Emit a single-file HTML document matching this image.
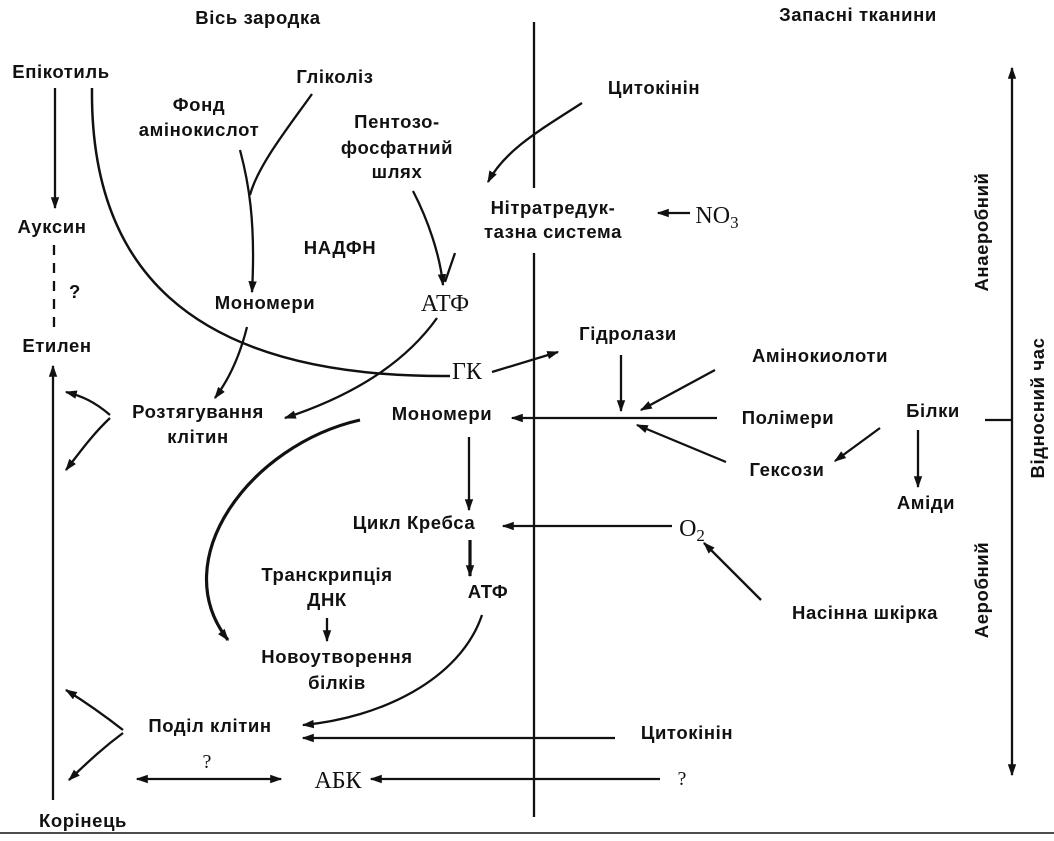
<!DOCTYPE html>
<html><head><meta charset="utf-8"><style>
html,body{margin:0;padding:0;background:#fff}
svg{display:block}
.t{font-family:"Liberation Sans",sans-serif;font-weight:bold;font-size:18.5px;letter-spacing:0.6px;fill:#111;text-anchor:middle}
.s{font-family:"Liberation Serif",serif;font-size:24px;fill:#111;text-anchor:middle}
</style></head><body>
<svg width="1054" height="841" viewBox="0 0 1054 841" xmlns="http://www.w3.org/2000/svg">
<defs>
<marker id="a" viewBox="0 0 10 10" refX="9" refY="5" markerWidth="12" markerHeight="12" markerUnits="userSpaceOnUse" orient="auto-start-reverse"><path d="M0,1.5 L10,5 L0,8.5 Z" fill="#111"/></marker>
</defs>
<g stroke="#111" stroke-width="2.3" fill="none">
<line x1="534" y1="22" x2="534" y2="188"/>
<line x1="534" y1="253" x2="534" y2="817"/>
<line x1="0" y1="833" x2="1054" y2="833" stroke-width="1.5"/>
<line x1="1012" y1="68" x2="1012" y2="775" marker-start="url(#a)" marker-end="url(#a)"/>
<line x1="985" y1="420" x2="1012" y2="420"/>
<line x1="55" y1="88" x2="55" y2="208" marker-end="url(#a)"/>
<line x1="54" y1="245" x2="54" y2="332" stroke-dasharray="10,8"/>
<line x1="53" y1="800" x2="53" y2="366" marker-end="url(#a)"/>
<path d="M92,88 C90,260 180,378 450,376" stroke-width="2.5"/>
<line x1="492" y1="372" x2="558" y2="352" marker-end="url(#a)"/>
<path d="M312,94 C290,125 258,165 250,195"/>
<path d="M240,150 C248,180 256,220 252,292" marker-end="url(#a)"/>
<path d="M413,191 C428,220 440,255 443,285" marker-end="url(#a)"/>
<line x1="455" y1="253" x2="445" y2="282"/>
<path d="M247,327 C240,355 230,378 215,398" marker-end="url(#a)"/>
<path d="M437,318 C400,370 340,400 285,418" marker-end="url(#a)"/>
<path d="M110,415 C95,402 82,396 66,392" marker-end="url(#a)"/>
<path d="M110,418 C92,435 80,452 66,470" marker-end="url(#a)"/>
<path d="M123,730 C100,712 82,700 66,690" marker-end="url(#a)"/>
<path d="M123,733 C100,750 85,765 69,780" marker-end="url(#a)"/>
<path d="M360,420 C250,445 165,560 228,640" stroke-width="3.2" marker-end="url(#a)"/>
<line x1="469" y1="437" x2="469" y2="510" marker-end="url(#a)"/>
<line x1="470" y1="540" x2="470" y2="576" stroke-width="3.2" marker-end="url(#a)"/>
<line x1="327" y1="618" x2="327" y2="641" marker-end="url(#a)"/>
<path d="M482,615 C460,680 380,718 303,725" marker-end="url(#a)"/>
<line x1="615" y1="738" x2="303" y2="738" marker-end="url(#a)"/>
<line x1="660" y1="779" x2="371" y2="779" marker-end="url(#a)"/>
<line x1="137" y1="779" x2="281" y2="779" marker-start="url(#a)" marker-end="url(#a)"/>
<path d="M582,103 C540,130 505,150 488,182" marker-end="url(#a)"/>
<line x1="690" y1="213" x2="658" y2="213" marker-end="url(#a)"/>
<line x1="672" y1="526" x2="503" y2="526" marker-end="url(#a)"/>
<line x1="761" y1="600" x2="704" y2="543" marker-end="url(#a)"/>
<line x1="717" y1="418" x2="512" y2="418" marker-end="url(#a)"/>
<line x1="621" y1="355" x2="621" y2="411" marker-end="url(#a)"/>
<line x1="715" y1="370" x2="641" y2="410" marker-end="url(#a)"/>
<line x1="726" y1="462" x2="637" y2="425" marker-end="url(#a)"/>
<line x1="880" y1="428" x2="835" y2="461" marker-end="url(#a)"/>
<line x1="918" y1="430" x2="918" y2="487" marker-end="url(#a)"/>
</g>
<g class="t">
<text x="258" y="24">Вісь зародка</text>
<text x="858" y="21">Запасні тканини</text>
<text x="61" y="78">Епікотиль</text>
<text x="335" y="83">Гліколіз</text>
<text x="199" y="111">Фонд</text>
<text x="199" y="136">амінокислот</text>
<text x="397" y="128">Пентозо-</text>
<text x="397" y="154">фосфатний</text>
<text x="397" y="178">шлях</text>
<text x="654" y="94">Цитокінін</text>
<text x="553" y="214">Нітратредук-</text>
<text x="553" y="238">тазна система</text>
<text x="52" y="233">Ауксин</text>
<text x="75" y="298">?</text>
<text x="340" y="254">НАДФН</text>
<text x="265" y="309">Мономери</text>
<text x="57" y="352">Етилен</text>
<text x="628" y="340">Гідролази</text>
<text x="820" y="362">Амінокиолоти</text>
<text x="198" y="418">Розтягування</text>
<text x="198" y="443">клітин</text>
<text x="442" y="420">Мономери</text>
<text x="788" y="424">Полімери</text>
<text x="933" y="417">Білки</text>
<text x="787" y="476">Гексози</text>
<text x="926" y="509">Аміди</text>
<text x="414" y="529">Цикл Кребса</text>
<text x="327" y="581">Транскрипція</text>
<text x="327" y="606">ДНК</text>
<text x="488" y="598">АТФ</text>
<text x="865" y="619">Насінна шкірка</text>
<text x="337" y="663">Новоутворення</text>
<text x="337" y="689">білків</text>
<text x="210" y="732">Поділ клітин</text>
<text x="687" y="739">Цитокінін</text>
<text x="83" y="827">Корінець</text>
<text transform="translate(988,232) rotate(-90)">Анаеробний</text>
<text transform="translate(988,590) rotate(-90)">Аеробний</text>
<text transform="translate(1044,408) rotate(-90)">Відносний час</text>
</g>
<g class="s">
<text x="445" y="311">АТФ</text>
<text x="467" y="379">ГК</text>
<text x="717" y="223">NO<tspan font-size="17" dy="5">3</tspan></text>
<text x="692" y="536">O<tspan font-size="17" dy="5">2</tspan></text>
<text x="207" y="768" font-size="20">?</text>
<text x="338" y="788">АБК</text>
<text x="682" y="785" font-size="20">?</text>
</g>
</svg>
</body></html>
